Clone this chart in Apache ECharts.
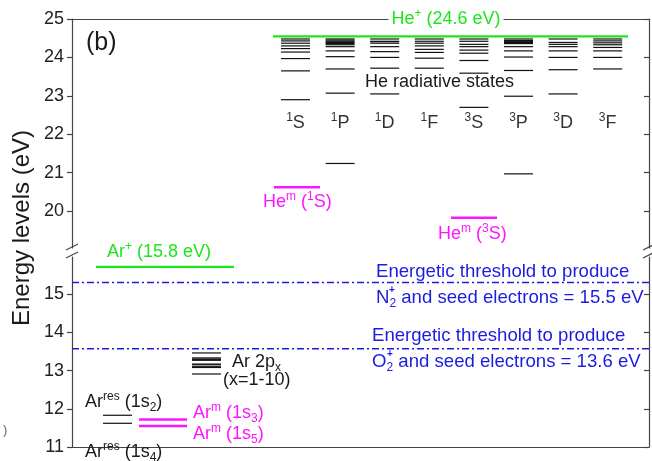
<!DOCTYPE html>
<html><head><meta charset="utf-8">
<script src="https://cdn.jsdelivr.net/npm/echarts@6/dist/echarts.min.js"></script>
<style>html,body{margin:0;padding:0;background:#fff}#c{width:652px;height:461px}</style>
</head><body><div id="c"></div>
<script>
// ---------------- data (energies in eV) ----------------
const upperTicks = [20, 21, 22, 23, 24, 25];
const lowerTicks = [11, 12, 13, 14, 15];
const heTermMult = ['1', '1', '1', '1', '3', '3', '3', '3'];
const heTermL = ['S', 'P', 'D', 'F', 'S', 'P', 'D', 'F'];
const he1S = [22.90, 23.65, 23.97, 24.14, 24.23, 24.30, 24.37, 24.43, 24.48];
const he1P = [21.24, 23.07, 23.70, 24.02, 24.17, 24.28, 24.33, 24.36, 24.39, 24.42, 24.45, 24.48];
const he1D = [23.05, 23.72, 24.00, 24.15, 24.28, 24.37, 24.41, 24.42, 24.48];
const he1F = [23.72, 23.98, 24.13, 24.21, 24.30, 24.37, 24.42, 24.48];
const he3S = [22.70, 23.59, 23.92, 24.11, 24.19, 24.28, 24.34, 24.42, 24.48];
const he3P = [20.97, 22.99, 23.66, 24.01, 24.17, 24.28, 24.36, 24.39, 24.41, 24.44, 24.48];
const he3D = [23.05, 23.68, 24.00, 24.17, 24.28, 24.34, 24.39, 24.48];
const he3F = [23.70, 24.00, 24.17, 24.26, 24.33, 24.38, 24.43, 24.48];
const heIonization = 24.55;
const heMeta1S = 20.62;
const heMeta3S = 19.83;
const arIonization = 15.71;
const thresholdN2 = 15.30;
const thresholdO2 = 13.57;
const ar2p = [12.91, 13.08, 13.10, 13.15, 13.17, 13.27, 13.28, 13.30, 13.33, 13.46];
const arRes = [11.83, 11.62];
const arMeta = [11.72, 11.55];

// ---------------- layout / style ----------------
const FONT = '"Liberation Sans", Arial, Helvetica, sans-serif';
const GREEN = '#1be61b', MAGENTA = '#ff14ff', BLUE = '#1c1ce0', INK = '#1a1a1a', AXIS = '#444';
const heColumns = [he1S, he1P, he1D, he1F, he3S, he3P, he3D, he3F];
const colLeft = i => 209 + 44.6 * i, colW = 29;

function segSeries(name, data, xAxisIndex, yAxisIndex, style) {
  return {
    type: 'custom', name, xAxisIndex, yAxisIndex, clip: false, silent: true,
    data, encode: { x: [0, 1], y: 2 },
    renderItem(params, api) {
      const p0 = api.coord([api.value(0), api.value(2)]);
      const p1 = api.coord([api.value(1), api.value(2)]);
      return { type: 'line', shape: { x1: p0[0], y1: p0[1], x2: p1[0], y2: p1[1] },
        style: Object.assign({ fill: null }, style) };
    }
  };
}

const heData = [];
heColumns.forEach((col, i) => col.forEach(v => heData.push([colLeft(i), colLeft(i) + colW, v])));

const rich = {
  n: { fontSize: 18, fontFamily: FONT, lineHeight: 23 },
  sup: { fontSize: 12, fontFamily: FONT, verticalAlign: 'top', lineHeight: 23 },
  sub: { fontSize: 12, fontFamily: FONT, verticalAlign: 'bottom', lineHeight: 23 },
  b: { fontSize: 18.6, fontFamily: FONT, lineHeight: 23 },
  bsub: { fontSize: 12, fontFamily: FONT, verticalAlign: 'bottom', lineHeight: 23 }
};
function txt(x, y, text, fill, opts) {
  return Object.assign({ type: 'text', x, y, z: 100, silent: true,
    style: { text, rich, fill, textAlign: 'left', textVerticalAlign: 'middle', fontFamily: FONT, fontSize: 18 } }, opts || {});
}
function plus(x, y) {
  return { type: 'text', x, y, z: 100, silent: true,
    style: { text: '+', fill: BLUE, font: 'bold 10px ' + FONT, textAlign: 'left', textVerticalAlign: 'middle' } };
}

const graphics = [
  { type: 'text', x: 22, y: 228, rotation: Math.PI / 2, z: 100, silent: true,
    style: { text: 'Energy levels (eV)', fill: INK, font: '24px ' + FONT, textAlign: 'center', textVerticalAlign: 'middle' } },
  { type: 'text', x: 86, y: 43, z: 100, silent: true,
    style: { text: '(b)', fill: INK, font: '25px ' + FONT, textAlign: 'left', textVerticalAlign: 'middle' } },
  { type: 'text', x: 3, y: 430, z: 100, silent: true,
    style: { text: ')', fill: '#666', font: '13px ' + FONT, textAlign: 'left', textVerticalAlign: 'middle' } },
  { type: 'text', x: 446, y: 19, z: 100, silent: true,
    style: { text: '{n|He}{sup|+}{n| (24.6 eV)}', rich, fill: GREEN, textAlign: 'center', textVerticalAlign: 'middle',
      backgroundColor: '#fff', padding: [0, 3] } },
  txt(365, 82, '{n|He radiative states}', INK),
  txt(263, 202, '{n|He}{sup|m}{n| (}{sup|1}{n|S)}', MAGENTA),
  txt(438, 234, '{n|He}{sup|m}{n| (}{sup|3}{n|S)}', MAGENTA),
  txt(107, 252, '{n|Ar}{sup|+}{n| (15.8 eV)}', GREEN),
  txt(376, 272, '{b|Energetic threshold to produce}', BLUE),
  txt(376, 298, '{b|N}{bsub|2}{b| and seed electrons = 15.5 eV}', BLUE),
  plus(389, 290),
  txt(372, 336, '{b|Energetic threshold to produce}', BLUE),
  txt(372, 362, '{b|O}{bsub|2}{b| and seed electrons = 13.6 eV}', BLUE),
  plus(387, 354),
  txt(232, 362, '{n|Ar 2p}{sub|x}', INK),
  txt(223, 380, '{n|(x=1-10)}', INK),
  txt(85, 402, '{n|Ar}{sup|res}{n| (1s}{sub|2}{n|)}', INK),
  txt(85, 452, '{n|Ar}{sup|res}{n| (1s}{sub|4}{n|)}', INK),
  txt(193, 413, '{n|Ar}{sup|m}{n| (1s}{sub|3}{n|)}', MAGENTA),
  txt(193, 434, '{n|Ar}{sup|m}{n| (1s}{sub|5}{n|)}', MAGENTA),
  // axis-break marks
  { type: 'line', z: 100, silent: true, shape: { x1: 66, y1: 250, x2: 78, y2: 244 }, style: { stroke: AXIS, lineWidth: 1.2 } },
  { type: 'line', z: 100, silent: true, shape: { x1: 66, y1: 258, x2: 78, y2: 252 }, style: { stroke: AXIS, lineWidth: 1.2 } },
  { type: 'line', z: 100, silent: true, shape: { x1: 643, y1: 250, x2: 655, y2: 244 }, style: { stroke: AXIS, lineWidth: 1.2 } },
  { type: 'line', z: 100, silent: true, shape: { x1: 643, y1: 258, x2: 655, y2: 252 }, style: { stroke: AXIS, lineWidth: 1.2 } }
];
heTermL.forEach((L, i) => {
  const t = txt(colLeft(i) + 72 + colW / 2, 123, '{sup|' + heTermMult[i] + '}{n|' + L + '}', '#333');
  t.style.textAlign = 'center';
  graphics.push(t);
});

function xAx(gridIndex, position) {
  return { type: 'value', gridIndex, position, min: 0, max: 577,
    axisLine: { show: true, lineStyle: { color: AXIS, width: 1.2 } },
    axisTick: { show: false }, axisLabel: { show: false }, splitLine: { show: false } };
}
function yAx(gridIndex, position, min, max, ticks, labels) {
  return { type: 'value', gridIndex, position, min, max,
    axisLine: { show: true, onZero: false, lineStyle: { color: AXIS, width: 1.2 } },
    axisTick: { show: true, inside: position === 'right', length: 5, customValues: ticks, lineStyle: { color: AXIS, width: 1.2 } },
    axisLabel: { show: labels, customValues: ticks, margin: 8, color: '#222', fontSize: 18, fontFamily: FONT },
    splitLine: { show: false } };
}

const option = {
  animation: false,
  backgroundColor: '#fff',
  grid: [
    { left: 72, right: 3, top: 19, height: 229 },
    { left: 72, right: 3, top: 257, height: 190 }
  ],
  xAxis: [xAx(0, 'top'), xAx(1, 'bottom')],
  yAxis: [
    yAx(0, 'left', 19.04, 25, upperTicks, true),
    yAx(0, 'right', 19.04, 25, upperTicks, false),
    yAx(1, 'left', 11, 15.97, lowerTicks, true),
    yAx(1, 'right', 11, 15.97, lowerTicks, false)
  ],
  series: [
    segSeries('He radiative', heData, 0, 0, { stroke: '#111', lineWidth: 1.2 }),
    segSeries('He+', [[201, 556, heIonization]], 0, 0, { stroke: GREEN, lineWidth: 2.2 }),
    segSeries('He m', [[202, 248, heMeta1S], [379, 425, heMeta3S]], 0, 0, { stroke: MAGENTA, lineWidth: 2.5 }),
    segSeries('Ar+', [[24, 162, arIonization]], 1, 2, { stroke: GREEN, lineWidth: 2.2 }),
    segSeries('thresholds', [[0, 577, thresholdN2], [0, 577, thresholdO2]], 1, 2, { stroke: BLUE, lineWidth: 1.5, lineDash: [7, 3, 2, 3] }),
    segSeries('Ar 2p', ar2p.map(v => [120, 149, v]), 1, 2, { stroke: '#111', lineWidth: 1.2 }),
    segSeries('Ar res', arRes.map(v => [31, 60, v]), 1, 2, { stroke: '#111', lineWidth: 1.2 }),
    segSeries('Ar m', arMeta.map(v => [67, 115, v]), 1, 2, { stroke: MAGENTA, lineWidth: 2.5 })
  ],
  graphic: graphics
};
const chart = echarts.init(document.getElementById('c'), null, { renderer: 'canvas' });
chart.setOption(option);
</script></body></html>
